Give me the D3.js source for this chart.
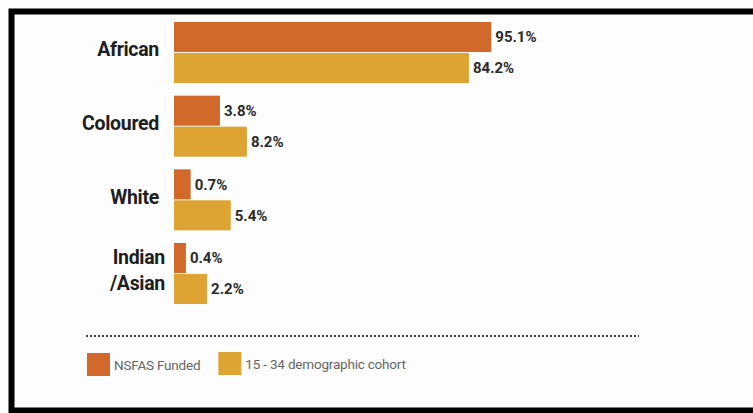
<!DOCTYPE html>
<html>
<head>
<meta charset="utf-8">
<script src="https://cdn.jsdelivr.net/npm/d3@7"></script>
<style>
  body { margin: 0; background: #fdfdfd; }
  svg { display: block; }
</style>
</head>
<body>
<div id="chart"></div>
<script>
// Chart data
const categories = ['African', 'Coloured', 'White', 'Indian/Asian'];
const categoryLines = [['African'], ['Coloured'], ['White'], ['Indian', '/Asian']];
const seriesNames = ['NSFAS Funded', '15 - 34 demographic cohort'];
const nsfasFunded = [95.1, 3.8, 0.7, 0.4];
const cohort = [84.2, 8.2, 5.4, 2.2];
const seriesColors = ['#d0692a', '#dea433'];

const width = 753, height = 413;

const svg = d3.select('#chart')
    .append('svg')
    .attr('width', width)
    .attr('height', height);

// Frame (open on the right side)
svg.append('path')
    .attr('d', `M${width},11.5 H11.5 V410.5 H${width}`)
    .attr('fill', 'none')
    .attr('stroke', '#000')
    .attr('stroke-width', 6);

// Scales
const yScale = d3.scaleBand()
    .domain(categories)
    .range([22, 304])
    .paddingInner(0.172)
    .paddingOuter(0);

const ySub = d3.scaleBand()
    .domain(seriesNames)
    .range([0, yScale.bandwidth()])
    .paddingInner(0.03);

// bars in the original are not drawn to a linear scale
const xScale = d3.scalePow()
    .exponent(0.6)
    .domain([0, 100])
    .range([174, 501]);

const rows = categories.map((c, i) => ({
    category: c,
    lines: categoryLines[i],
    values: [
        { series: seriesNames[0], value: nsfasFunded[i], color: seriesColors[0] },
        { series: seriesNames[1], value: cohort[i], color: seriesColors[1] }
    ]
}));

const groups = svg.selectAll('.group')
    .data(rows)
    .join('g')
    .attr('class', 'group')
    .attr('transform', d => `translate(0,${yScale(d.category)})`);

groups.selectAll('.bar')
    .data(d => d.values)
    .join('rect')
    .attr('class', 'bar')
    .attr('x', xScale(0))
    .attr('y', d => ySub(d.series))
    .attr('width', d => xScale(d.value) - xScale(0))
    .attr('height', ySub.bandwidth())
    .attr('fill', d => d.color);

groups.selectAll('.value-label')
    .data(d => d.values)
    .join('text')
    .attr('class', 'value-label')
    .attr('x', d => xScale(d.value) + 4)
    .attr('y', d => ySub(d.series) + ySub.bandwidth() / 2)
    .attr('dy', '0.35em')
    .attr('fill', '#2a2a2a')
    .style('font-family', 'Roboto, sans-serif')
    .style('font-weight', 700)
    .style('font-size', '15px')
    .text(d => d.value.toFixed(1) + '%');

// Category labels
groups.append('text')
    .attr('class', 'category-label')
    .attr('text-anchor', 'end')
    .attr('fill', '#1e1e1e')
    .style('font-family', 'Roboto, sans-serif')
    .style('font-weight', 700)
    .style('font-size', '19.5px')
    .style('letter-spacing', '-0.3px')
    .each(function(d) {
        const t = d3.select(this);
        const n = d.lines.length;
        d.lines.forEach((line, i) => {
            t.append('tspan')
                .attr('x', d.lines.length > 1 ? 165 : 159)
                .attr('y', yScale.bandwidth() / 2 - 3 + (i - (n - 1) / 2) * 26)
                .attr('dy', '0.35em')
                .text(line);
        });
    });

// Dotted separator
svg.append('line')
    .attr('x1', 86)
    .attr('x2', 639)
    .attr('y1', 336)
    .attr('y2', 336)
    .attr('stroke', '#444')
    .attr('stroke-width', 1.8)
    .attr('stroke-dasharray', '2,2');

// Legend
const legend = svg.append('g')
    .attr('transform', 'translate(87,352)');

let offset = 0;
seriesNames.forEach((name, i) => {
    const item = legend.append('g')
        .attr('transform', `translate(${offset},${i === 0 ? 1 : 0})`);
    item.append('rect')
        .attr('width', 23)
        .attr('height', 23)
        .attr('fill', seriesColors[i]);
    const label = item.append('text')
        .attr('x', 27)
        .attr('y', 12)
        .attr('dy', '0.35em')
        .attr('fill', '#666')
        .style('font-family', 'Roboto, sans-serif')
        .style('font-size', '13.5px')
        .style('letter-spacing', '-0.2px')
        .text(name);
    offset += 27 + label.node().getComputedTextLength() + 18;
});
</script>
</body>
</html>
